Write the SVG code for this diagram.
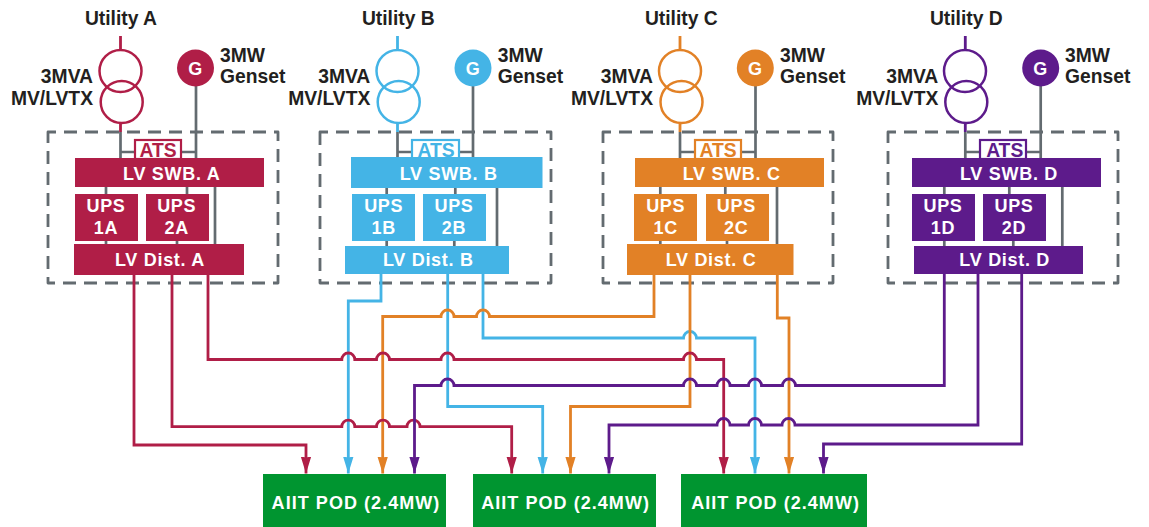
<svg xmlns="http://www.w3.org/2000/svg" width="1149" height="527" viewBox="0 0 1149 527">
<style>
text{font-family:"Liberation Sans",Arial,sans-serif;font-weight:700;font-size:19.3px;fill:#231f20}
.w{fill:#fff;text-anchor:middle;font-size:18px;letter-spacing:.7px}
.m{text-anchor:middle}
.e{text-anchor:end}
.pod{font-size:18px;letter-spacing:1.05px}
.dash{fill:none;stroke:#636b70;stroke-width:2.8;stroke-dasharray:13 8;stroke-dashoffset:5;stroke-linejoin:round}
.g{fill:none;stroke:#636b70;stroke-width:2.7}
.l{fill:none;stroke-width:2.8}
.ring{fill:none;stroke-width:2.5}
.ats{fill:#fff;stroke-width:2.2}
.cr{stroke:#b01e47}.bl{stroke:#44b4e6}.or{stroke:#e28126}.pu{stroke:#5d1b8b}
.fcr{fill:#b01e47}.fbl{fill:#44b4e6}.for{fill:#e28126}.fpu{fill:#5d1b8b}
.tcr{fill:#b01e47;text-anchor:middle}.tbl{fill:#44b4e6;text-anchor:middle}.tor{fill:#e28126;text-anchor:middle}.tpu{fill:#5d1b8b;text-anchor:middle}
.fp{fill:#009530}
</style>
<defs>
<marker id="acr" markerUnits="userSpaceOnUse" markerWidth="10.5" markerHeight="17" refX="5.25" refY="17" viewBox="0 0 10.5 17"><path d="M0 0L5.25 1 10.5 0 5.25 17Z" fill="#b01e47"/></marker>
<marker id="abl" markerUnits="userSpaceOnUse" markerWidth="10.5" markerHeight="17" refX="5.25" refY="17" viewBox="0 0 10.5 17"><path d="M0 0L5.25 1 10.5 0 5.25 17Z" fill="#44b4e6"/></marker>
<marker id="aor" markerUnits="userSpaceOnUse" markerWidth="10.5" markerHeight="17" refX="5.25" refY="17" viewBox="0 0 10.5 17"><path d="M0 0L5.25 1 10.5 0 5.25 17Z" fill="#e28126"/></marker>
<marker id="apu" markerUnits="userSpaceOnUse" markerWidth="10.5" markerHeight="17" refX="5.25" refY="17" viewBox="0 0 10.5 17"><path d="M0 0L5.25 1 10.5 0 5.25 17Z" fill="#5d1b8b"/></marker>
</defs>

<g id="boundaries">
<rect class="dash" x="48" y="132" width="230" height="151"/>
<rect class="dash" x="320" y="132" width="231" height="151"/>
<rect class="dash" x="603" y="132" width="230" height="151"/>
<rect class="dash" x="888" y="132" width="230" height="151"/>
</g>

<g id="connectors">
<path class="g" d="M120.5 132V158M196 86V158M120.5 152H135M181 152H196M106 187V194M187 187V194M215 187V244M106 241V244M177 241V244"/>
<path class="g" d="M397.5 132V158M473 86V158M397.5 152H412M459 152H473M386.7 187V194M455.3 187V194M497 187V246M386.7 241V246M454.3 241V246"/>
<path class="g" d="M680 132V158M755.5 86V158M680 152H695M741 152H755.5M660.3 187V194M725.3 187V194M777 187V244M660.3 241V244M727 241V244"/>
<path class="g" d="M965.3 132V158M1040.7 86V158M965.3 152H980M1026 152H1040.7M944.3 187V194M1009.3 187V194M1062.3 187V246M944.3 241V246M1013.3 241V246"/>
<path class="l cr" d="M120.5 36V50M120.5 124V132"/>
<path class="l bl" d="M397.5 36V50M397.5 124V132"/>
<path class="l or" d="M680 36V50M680 124V132"/>
<path class="l pu" d="M965.3 36V50M965.3 124V132"/>
<path class="l bl" marker-end="url(#abl)" d="M381 273V301H348.3V473.5"/>
<path class="l bl" marker-end="url(#abl)" d="M447.7 273V406.5H542.7V473.5"/>
<path class="l bl" marker-end="url(#abl)" d="M483 273V338H683.5A6.5 6.5 0 0 1 696.5 338H755V473.5"/>
<path class="l or" marker-end="url(#aor)" d="M654 274V316.5H489.5A6.5 6.5 0 0 0 476.5 316.5H454A6.5 6.5 0 0 0 441 316.5H382.7V473.5"/>
<path class="l or" marker-end="url(#aor)" d="M690 274V406.5H570.5V473.5"/>
<path class="l or" marker-end="url(#aor)" d="M777.3 274V318H789V473.5"/>
<path class="l cr" marker-end="url(#acr)" d="M134 274V445H306V473.5"/>
<path class="l cr" marker-end="url(#acr)" d="M172 274V426.7H341.8A6.5 6.5 0 0 1 354.8 426.7H376.5A6.5 6.5 0 0 1 389.5 426.7H407A6.5 6.5 0 0 1 420 426.7H511.7V473.5"/>
<path class="l cr" marker-end="url(#acr)" d="M208 274V359.5H341.8A6.5 6.5 0 0 1 354.8 359.5H376.5A6.5 6.5 0 0 1 389.5 359.5H441A6.5 6.5 0 0 1 454 359.5H683.5A6.5 6.5 0 0 1 696.5 359.5H723.7V473.5"/>
<path class="l pu" marker-end="url(#apu)" d="M944.3 273V385.5H795.5A6.5 6.5 0 0 0 782.5 385.5H761.5A6.5 6.5 0 0 0 748.5 385.5H730A6.5 6.5 0 0 0 717 385.5H696.5A6.5 6.5 0 0 0 683.5 385.5H454A6.5 6.5 0 0 0 441 385.5H414.5V473.5"/>
<path class="l pu" marker-end="url(#apu)" d="M978 273V425H795A6.5 6.5 0 0 0 782 425H761.5A6.5 6.5 0 0 0 748.5 425H730A6.5 6.5 0 0 0 717 425H609V473.5"/>
<path class="l pu" marker-end="url(#apu)" d="M1021.7 273V444H823.5V473.5"/>
</g>

<g id="labels-utility">
<text class="m" x="121" y="25">Utility A</text>
<text class="m" x="398.3" y="24.5">Utility B</text>
<text class="m" x="681.3" y="25">Utility C</text>
<text class="m" x="966.3" y="24.5">Utility D</text>
</g>

<g id="tx-a"><circle class="ring cr" cx="120.5" cy="71" r="21"/><circle class="ring cr" cx="121.7" cy="102" r="21"/><text class="e" x="93" y="83">3MVA</text><text class="e" x="93" y="105">MV/LVTX</text></g>
<g id="tx-b"><circle class="ring bl" cx="397.5" cy="71" r="21"/><circle class="ring bl" cx="398.7" cy="102" r="21"/><text class="e" x="370.3" y="83">3MVA</text><text class="e" x="370.3" y="105">MV/LVTX</text></g>
<g id="tx-c"><circle class="ring or" cx="680" cy="71" r="21"/><circle class="ring or" cx="681.5" cy="102" r="21"/><text class="e" x="653" y="83">3MVA</text><text class="e" x="653" y="105">MV/LVTX</text></g>
<g id="tx-d"><circle class="ring pu" cx="965" cy="71" r="21"/><circle class="ring pu" cx="966.3" cy="102" r="21"/><text class="e" x="938.3" y="83">3MVA</text><text class="e" x="938.3" y="105">MV/LVTX</text></g>

<g id="gen-a"><circle class="fcr" cx="195.5" cy="68" r="18.5"/><text class="w" x="195.5" y="74.5">G</text><text x="220" y="62">3MW</text><text x="220" y="83">Genset</text></g>
<g id="gen-b"><circle class="fbl" cx="473" cy="68" r="18.5"/><text class="w" x="473" y="74.5">G</text><text x="497.7" y="62">3MW</text><text x="497.7" y="83">Genset</text></g>
<g id="gen-c"><circle class="for" cx="755.3" cy="68" r="18.5"/><text class="w" x="755.3" y="74.5">G</text><text x="780" y="62">3MW</text><text x="780" y="83">Genset</text></g>
<g id="gen-d"><circle class="fpu" cx="1040.7" cy="68" r="18.5"/><text class="w" x="1040.7" y="74.5">G</text><text x="1065" y="62">3MW</text><text x="1065" y="83">Genset</text></g>

<g id="ats-a"><rect class="ats cr" x="135" y="140" width="46" height="19"/><text class="tcr" x="158" y="156.5">ATS</text></g>
<g id="ats-b"><rect class="ats bl" x="412" y="140" width="47" height="19"/><text class="tbl" x="436" y="156.5">ATS</text></g>
<g id="ats-c"><rect class="ats or" x="695" y="140" width="46" height="19"/><text class="tor" x="718" y="156.5">ATS</text></g>
<g id="ats-d"><rect class="ats pu" x="980" y="140" width="46" height="19"/><text class="tpu" x="1004.7" y="156.5">ATS</text></g>

<g id="swb-a"><rect class="fcr" x="75" y="158" width="189" height="29"/><text class="w" x="171.7" y="180">LV SWB. A</text></g>
<g id="swb-b"><rect class="fbl" x="351" y="157" width="191.5" height="31"/><text class="w" x="448.7" y="179.5">LV SWB. B</text></g>
<g id="swb-c"><rect class="for" x="635" y="158" width="189" height="29"/><text class="w" x="731.7" y="180">LV SWB. C</text></g>
<g id="swb-d"><rect class="fpu" x="912" y="158" width="189" height="29"/><text class="w" x="1009" y="180">LV SWB. D</text></g>

<g id="ups-1a"><rect class="fcr" x="75" y="194" width="63" height="47"/><text class="w" x="106" y="212">UPS</text><text class="w" x="106" y="234">1A</text></g>
<g id="ups-2a"><rect class="fcr" x="146" y="194" width="63" height="47"/><text class="w" x="176.7" y="212">UPS</text><text class="w" x="176.7" y="234">2A</text></g>
<g id="ups-1b"><rect class="fbl" x="352" y="194" width="63" height="47"/><text class="w" x="383.7" y="212">UPS</text><text class="w" x="383.7" y="234">1B</text></g>
<g id="ups-2b"><rect class="fbl" x="423" y="194" width="63" height="47"/><text class="w" x="454" y="212">UPS</text><text class="w" x="454" y="234">2B</text></g>
<g id="ups-1c"><rect class="for" x="634" y="194" width="63" height="47"/><text class="w" x="665.7" y="212">UPS</text><text class="w" x="665.7" y="234">1C</text></g>
<g id="ups-2c"><rect class="for" x="706" y="194" width="63" height="47"/><text class="w" x="736.3" y="212">UPS</text><text class="w" x="736.3" y="234">2C</text></g>
<g id="ups-1d"><rect class="fpu" x="912" y="194" width="63" height="47"/><text class="w" x="943" y="212">UPS</text><text class="w" x="943" y="234">1D</text></g>
<g id="ups-2d"><rect class="fpu" x="983" y="194" width="63" height="47"/><text class="w" x="1014" y="212">UPS</text><text class="w" x="1014" y="234">2D</text></g>

<g id="dist-a"><rect class="fcr" x="74" y="244" width="170" height="31"/><text class="w" x="160" y="265.5">LV Dist. A</text></g>
<g id="dist-b"><rect class="fbl" x="345" y="246" width="164" height="28"/><text class="w" x="428.3" y="265.5">LV Dist. B</text></g>
<g id="dist-c"><rect class="for" x="627" y="244" width="166.5" height="31"/><text class="w" x="711" y="265.5">LV Dist. C</text></g>
<g id="dist-d"><rect class="fpu" x="914" y="246" width="169" height="28"/><text class="w" x="1004.7" y="265.5">LV Dist. D</text></g>

<g id="pod-1"><rect class="fp" x="263" y="474" width="183" height="53"/><text class="w pod" x="356" y="508.5">AIIT POD (2.4MW)</text></g>
<g id="pod-2"><rect class="fp" x="473" y="474" width="183" height="53"/><text class="w pod" x="565.6" y="508.5">AIIT POD (2.4MW)</text></g>
<g id="pod-3"><rect class="fp" x="681" y="474" width="186" height="53"/><text class="w pod" x="775.6" y="508.5">AIIT POD (2.4MW)</text></g>
</svg>
